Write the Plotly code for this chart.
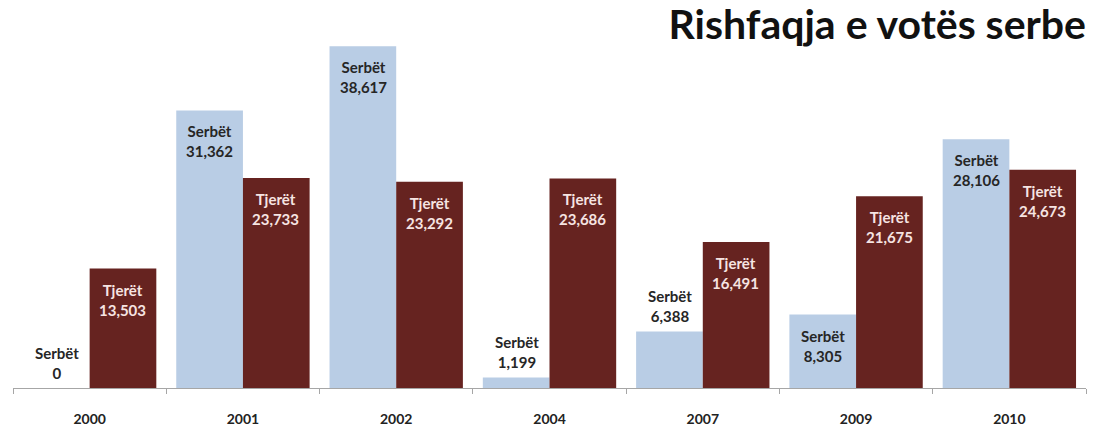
import plotly.graph_objects as go

years = ["2000", "2001", "2002", "2004", "2007", "2009", "2010"]
serbet = [0, 31362, 38617, 1199, 6388, 8305, 28106]
tjeret = [13503, 23733, 23292, 23686, 16491, 21675, 24673]
# label placement for Serbët bars: inside (top of bar) or above the bar
serbet_inside = [False, True, True, False, False, True, True]

BLUE = "#B9CDE5"
RED = "#662320"
FONT = "Lato"

fig = go.Figure()
fig.add_trace(go.Bar(x=years, y=serbet, name="Serbët", marker_color=BLUE,
                     marker_line_width=0, hoverinfo="skip"))
fig.add_trace(go.Bar(x=years, y=tjeret, name="Tjerët", marker_color=RED,
                     marker_line_width=0, hoverinfo="skip"))

annotations = []
for i, (v, inside) in enumerate(zip(serbet, serbet_inside)):
    annotations.append(dict(
        x=i, y=v, xref="x", yref="y", xshift=-33,
        text=f"Serbët<br>{v:,}", showarrow=False,
        yanchor="top" if inside else "bottom",
        yshift=-10 if inside else 4,
        font=dict(family=FONT, size=15, color="#262626", weight="bold"),
    ))
for i, v in enumerate(tjeret):
    annotations.append(dict(
        x=i, y=v, xref="x", yref="y", xshift=33,
        text=f"Tjerët<br>{v:,}", showarrow=False,
        yanchor="top", yshift=-10,
        font=dict(family=FONT, size=15, color="#F6E4E2", weight="bold"),
    ))

fig.update_layout(
    width=1096, height=428,
    margin=dict(l=13, r=10, t=34, b=40, autoexpand=False),
    paper_bgcolor="white", plot_bgcolor="white",
    barmode="group", bargap=0.13, bargroupgap=0,
    showlegend=False,
    annotations=annotations,
    title=dict(
        text="Rishfaqja e votës serbe",
        xref="paper", x=1, xanchor="right",
        yref="container", y=1 - 10 / 428, yanchor="top",
        font=dict(family=FONT, size=41, color="#111111", weight="bold"),
    ),
    xaxis=dict(
        type="category", range=[-0.5, len(years) - 0.5], automargin=False,
        showline=True, linecolor="#A6A6A6", linewidth=1,
        ticks="outside", tickson="boundaries", tickcolor="#A6A6A6", ticklen=5,
        tickfont=dict(family=FONT, size=14, color="#222222", weight="bold"),
        ticklabelstandoff=18, showgrid=False,
    ),
    yaxis=dict(range=[0, 40000], visible=False, showgrid=False, zeroline=False,
               automargin=False),
)

fig.write_html("out.html", config={"displayModeBar": False},
               post_script="document.body.style.margin='0';")
